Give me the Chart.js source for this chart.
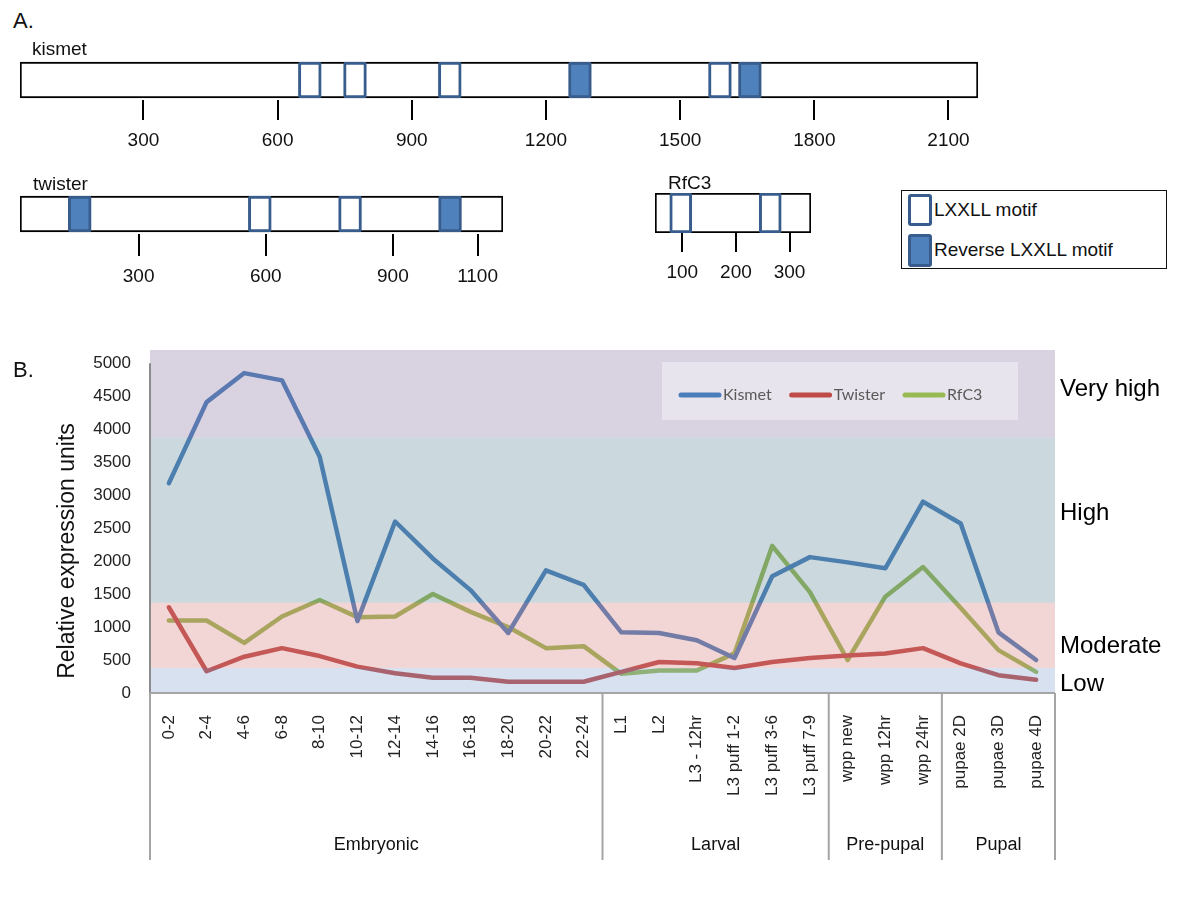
<!DOCTYPE html>
<html>
<head>
<meta charset="utf-8">
<script src="https://cdn.jsdelivr.net/npm/chart.js@4.4.0/dist/chart.umd.min.js"></script>
<style>
html,body{margin:0;padding:0;background:#fff;}
body{width:1200px;height:900px;position:relative;overflow:hidden;font-family:"Liberation Sans",Arial,sans-serif;color:#111;}
.box{position:absolute;}
.lbl{position:absolute;white-space:nowrap;font-size:19px;line-height:22px;}
.key{position:absolute;box-sizing:border-box;border:3px solid rgb(56,93,140);border-radius:3px;}
</style>
</head>
<body>
<div class="box" style="left:0;top:40px;width:1000px;height:120px"><canvas id="kismet"></canvas></div>
<div class="box" style="left:0;top:174px;width:540px;height:120px"><canvas id="twister"></canvas></div>
<div class="box" style="left:600px;top:173px;width:260px;height:120px"><canvas id="rfc3"></canvas></div>
<div class="box" style="left:0;top:330px;width:1200px;height:570px"><canvas id="expr"></canvas></div>

<div class="lbl" style="left:13px;top:8px;font-size:22px;line-height:26px">A.</div>
<div class="lbl" style="left:32px;top:38px">kismet</div>
<div class="lbl" style="left:33px;top:173px">twister</div>
<div class="lbl" style="left:668px;top:172px">RfC3</div>
<div class="lbl" style="left:13px;top:357px;font-size:22px;line-height:26px">B.</div>

<div class="box" style="left:901px;top:190px;width:266px;height:79px;box-sizing:border-box;border:1.5px solid #111"></div>
<div class="key" style="left:908px;top:194px;width:24px;height:32px;background:#fff"></div>
<div class="key" style="left:908px;top:234px;width:24px;height:33px;background:rgb(79,129,189)"></div>
<div class="lbl" style="left:934px;top:199px">LXXLL motif</div>
<div class="lbl" style="left:934px;top:239px">Reverse LXXLL motif</div>

<script>
// ---- A. motif maps (residue positions) ----
var kismetRange = [24, 2166];
var kismetLXXLL = [672, 773, 985, 1589];
var kismetReverse = [1276, 1656];
var kismetTicks = [300, 600, 900, 1200, 1500, 1800, 2100];

var twisterRange = [20, 1160];
var twisterLXXLL = [586, 799];
var twisterReverse = [161, 1035];
var twisterTicks = [300, 600, 900, 1100];

var rfc3Range = [49, 340];
var rfc3LXXLL = [97, 264];
var rfc3Reverse = [];
var rfc3Ticks = [100, 200, 300];

// ---- B. expression profile ----
var stages = ['0-2','2-4','4-6','6-8','8-10','10-12','12-14','14-16','16-18','18-20','20-22','22-24',
  'L1','L2','L3 - 12hr','L3 puff 1-2','L3 puff 3-6','L3 puff 7-9',
  'wpp new','wpp 12hr','wpp 24hr','pupae 2D','pupae 3D','pupae 4D'];
var groupNames = ['Embryonic', 'Larval', 'Pre-pupal', 'Pupal'];
var groupSizes = [12, 6, 3, 3];
var kismetExpr  = [3180,4410,4850,4740,3580,1090,2600,2040,1560,910,1860,1640,920,910,800,530,1770,2060,1980,1890,2900,2570,920,500];
var twisterExpr = [1300,330,550,680,560,400,300,230,230,170,170,170,320,470,450,380,470,530,570,600,680,450,270,200];
var rfc3Expr    = [1100,1100,760,1160,1410,1150,1160,1500,1230,1000,680,710,290,340,340,600,2230,1530,500,1460,1910,1290,650,320];
var yTicks = [0,500,1000,1500,2000,2500,3000,3500,4000,4500,5000];
var bandNames = ['Low', 'Moderate', 'High', 'Very high'];
var bandEdges = [0, 380, 1370, 3870, 5200];

var FONT = '"Liberation Sans", Arial, sans-serif';
var MOTIF_EDGE = 'rgb(56,93,140)';
var MOTIF_FILL = 'rgb(79,129,189)';

function proteinMap(id, range, lxxll, reverse, tickVals, o) {
  function box(c) { return {x: [c - o.motif / 2, c + o.motif / 2], y: 'p'}; }
  new Chart(document.getElementById(id), {
    type: 'bar',
    data: {
      labels: ['p'],
      datasets: [
        {label: 'LXXLL motif', data: lxxll.map(box), backgroundColor: '#fff', borderColor: MOTIF_EDGE,
         borderWidth: 3, borderSkipped: false, borderRadius: 2, grouped: false, barThickness: o.thick, order: 1},
        {label: 'Reverse LXXLL motif', data: reverse.map(box), backgroundColor: MOTIF_FILL, borderColor: MOTIF_EDGE,
         borderWidth: 3, borderSkipped: false, borderRadius: 2, grouped: false, barThickness: o.thick, order: 1},
        {label: id, data: [{x: range, y: 'p'}], backgroundColor: '#fff', borderColor: '#000',
         borderWidth: 2, borderSkipped: false, grouped: false, barThickness: o.thick, order: 2}
      ]
    },
    options: {
      indexAxis: 'y',
      responsive: true,
      maintainAspectRatio: false,
      animation: false,
      events: [],
      layout: {padding: o.pad},
      plugins: {legend: {display: false}, tooltip: {enabled: false}},
      scales: {
        x: {
          type: 'linear', min: range[0], max: range[1],
          afterBuildTicks: function(ax) { ax.ticks = tickVals.map(function(v) { return {value: v}; }); },
          afterFit: function(ax) { ax.height = 50; },
          grid: {drawOnChartArea: false, drawTicks: true, tickLength: o.tick, color: '#000', lineWidth: 2},
          border: {display: false},
          ticks: {font: {family: FONT, size: 19}, color: '#111', padding: 9, maxRotation: 0, autoSkip: false,
                  callback: function(v) { return String(v); }}
        },
        y: {display: false}
      }
    }
  });
}

proteinMap('kismet', kismetRange, kismetLXXLL, kismetReverse, kismetTicks,
  {motif: 51, thick: 36, tick: 20, pad: {left: 20, right: 22, top: 20, bottom: 10}});
proteinMap('twister', twisterRange, twisterLXXLL, twisterReverse, twisterTicks,
  {motif: 54, thick: 36, tick: 22, pad: {left: 20, right: 37, top: 20, bottom: 10}});
proteinMap('rfc3', rfc3Range, rfc3LXXLL, rfc3Reverse, rfc3Ticks,
  {motif: 41, thick: 40, tick: 19, pad: {left: 55, right: 49, top: 20, bottom: 10}});

// bands are laid over the lines, half see-through, as in the original
var zonePlugin = {
  id: 'zones',
  afterDatasetsDraw: function(chart, args, opts) {
    var ctx = chart.ctx, ca = chart.chartArea, y = chart.scales.y;
    ctx.save();
    for (var i = 0; i < bandNames.length; i++) {
      var top = y.getPixelForValue(bandEdges[i + 1]), bot = y.getPixelForValue(bandEdges[i]);
      ctx.fillStyle = opts.colors[i];
      ctx.fillRect(ca.left, top, ca.right - ca.left, bot - top);
    }
    // legend box (canvas coords)
    ctx.fillStyle = 'rgb(232,228,237)';
    ctx.fillRect(662, 32, 356, 58);
    ctx.font = '16px Lato, "Open Sans", sans-serif';
    ctx.textBaseline = 'middle';
    var x = 681, ly = 65;
    chart.data.datasets.forEach(function(ds) {
      ctx.strokeStyle = ds.borderColor;
      ctx.lineWidth = 5;
      ctx.lineCap = 'round';
      ctx.beginPath(); ctx.moveTo(x, ly); ctx.lineTo(x + 38, ly); ctx.stroke();
      ctx.fillStyle = '#595959';
      ctx.textAlign = 'left';
      ctx.fillText(ds.label, x + 42, ly);
      x += 42 + ctx.measureText(ds.label).width + 20;
    });
    // zone names on the right
    ctx.fillStyle = '#000';
    ctx.font = '24px ' + FONT;
    for (var j = 0; j < bandNames.length; j++) {
      ctx.fillText(bandNames[j], ca.right + 5, y.getPixelForValue(opts.labelAt[j]));
    }
    ctx.restore();
  },
  afterDraw: function(chart) {
    var ctx = chart.ctx, ca = chart.chartArea, x = chart.scales.x, y = chart.scales.y;
    ctx.save();
    // y axis line (0..5000) and x axis line
    ctx.strokeStyle = 'rgb(140,140,140)';
    ctx.lineWidth = 2;
    ctx.beginPath();
    ctx.moveTo(ca.left, y.getPixelForValue(yTicks[yTicks.length - 1]));
    ctx.lineTo(ca.left, ca.bottom);
    ctx.stroke();
    ctx.strokeStyle = 'rgb(165,165,165)';
    ctx.beginPath(); ctx.moveTo(ca.left, ca.bottom); ctx.lineTo(ca.right, ca.bottom); ctx.stroke();
    // stage groups
    ctx.font = '18px ' + FONT;
    ctx.fillStyle = '#111';
    ctx.textAlign = 'center';
    ctx.textBaseline = 'middle';
    var start = 0, prev = ca.left;
    ctx.beginPath(); ctx.moveTo(ca.left, ca.bottom); ctx.lineTo(ca.left, 530); ctx.stroke();
    groupSizes.forEach(function(n, g) {
      var end = start + n;
      var edge = end >= stages.length ? ca.right : (x.getPixelForValue(end - 1) + x.getPixelForValue(end)) / 2;
      ctx.beginPath(); ctx.moveTo(edge, ca.bottom); ctx.lineTo(edge, 530); ctx.stroke();
      ctx.fillText(groupNames[g], (prev + edge) / 2, 515);
      prev = edge; start = end;
    });
    // y title
    ctx.font = '23px ' + FONT;
    ctx.translate(68, 221);
    ctx.rotate(-Math.PI / 2);
    ctx.fillText('Relative expression units', 0, 0);
    ctx.restore();
  }
};

function line(label, data, color) {
  return {label: label, data: data, borderColor: color, backgroundColor: color, borderWidth: 4.5,
          pointRadius: 0, tension: 0, fill: false, borderJoinStyle: 'round', borderCapStyle: 'round'};
}

new Chart(document.getElementById('expr'), {
  type: 'line',
  data: {
    labels: stages,
    datasets: [
      line('Kismet', kismetExpr, 'rgb(74,126,187)'),
      line('Twister', twisterExpr, 'rgb(190,75,72)'),
      line('RfC3', rfc3Expr, 'rgb(152,185,84)')
    ]
  },
  options: {
    responsive: true,
    maintainAspectRatio: false,
    animation: false,
    events: [],
    layout: {padding: {left: 0, right: 145, top: 20, bottom: 37}},
    plugins: {
      legend: {display: false},
      tooltip: {enabled: false},
      zones: {
        colors: ['rgba(122,155,202,0.3)', 'rgba(212,118,118,0.3)', 'rgba(82,128,145,0.3)', 'rgba(128,108,155,0.3)'],
        labelAt: [136, 713, 2729, 4609]
      }
    },
    scales: {
      x: {
        offset: true,
        afterFit: function(ax) { ax.height = 170; ax.paddingLeft = 0; ax.paddingRight = 0; },
        grid: {display: false},
        border: {display: false},
        ticks: {font: {family: FONT, size: 17}, color: '#222', minRotation: 90, maxRotation: 90,
                autoSkip: false, padding: 14}
      },
      y: {
        min: 0, max: 5200,
        afterBuildTicks: function(ax) { ax.ticks = yTicks.map(function(v) { return {value: v}; }); },
        afterFit: function(ax) { ax.width = 150; ax.paddingTop = 0; ax.paddingBottom = 0; },
        grid: {display: false},
        border: {display: false},
        ticks: {font: {family: FONT, size: 17}, color: '#222', padding: 11,
                callback: function(v) { return String(v); }}
      }
    }
  },
  plugins: [zonePlugin]
});
</script>
</body>
</html>
